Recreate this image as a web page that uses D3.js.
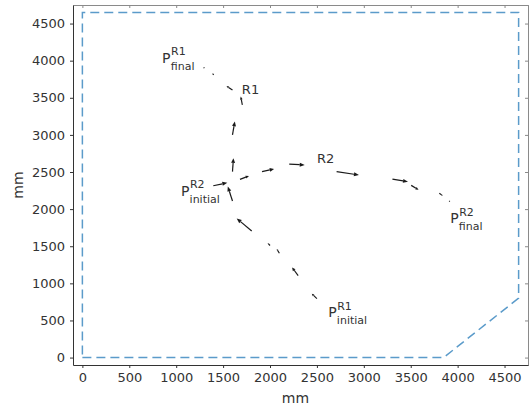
<!DOCTYPE html>
<html>
<head>
<meta charset="utf-8">
<script src="https://cdn.jsdelivr.net/npm/d3@7"></script>
<style>
  body { margin: 0; background: #fff; }
  svg text { font-family: "DejaVu Sans", sans-serif; fill: #333; }
</style>
</head>
<body>
<script>
// tick values (mm)
var xTicks = [0, 500, 1000, 1500, 2000, 2500, 3000, 3500, 4000, 4500];
var yTicks = [0, 500, 1000, 1500, 2000, 2500, 3000, 3500, 4000, 4500];

// workspace boundary (mm)
var boundX = [0, 3850, 4650, 4650, 0, 0];
var boundY = [0, 0, 800, 4650, 4650, 0];

// robot 1 path arrows: tail position and vector (mm)
var r1X = [2500, 2300, 2100, 2000, 1805, 1600, 1600, 1600, 1705, 1600, 1400, 1300];
var r1Y = [795, 1105, 1405, 1510, 1705, 2110, 2505, 3000, 3405, 3605, 3810, 3900];
var r1U = [-55, -65, -28, -25, -160, -50, 10, 25, -17, -64, -16, -10];
var r1V = [65, 110, 58, 32, 170, 195, 180, 180, 112, 54, 20, 12];

// robot 2 path arrows
var r2X = [1395, 1680, 1915, 2205, 2710, 3305, 3505, 3805, 3910];
var r2Y = [2315, 2400, 2505, 2605, 2505, 2405, 2320, 2215, 2110];
var r2U = [150, 96, 128, 165, 238, 166, 78, 36, 10];
var r2V = [40, 47, 36, -9, -45, -36, -60, -36, -12];

// point labels
var ptSup = ["R1", "R1", "R2", "R2"];
var ptSub = ["final", "initial", "initial", "final"];
var ptX = [850, 2620, 1050, 3920];
var ptY = [3970, 545, 2180, 1810];

// robot labels
var robName = ["R1", "R2"];
var robX = [1700, 2500];
var robY = [3550, 2620];

var width = 531, height = 412;
var plot = {left: 73, right: 528, top: 5, bottom: 365};

var svg = d3.select("body").append("svg")
    .attr("width", width)
    .attr("height", height);

var x = d3.scaleLinear().domain([-100, 4750]).range([plot.left, plot.right]);
var y = d3.scaleLinear().domain([-100, 4750]).range([plot.bottom, plot.top]);

// frame top/right
svg.append("g")
    .attr("transform", "translate(0," + plot.top + ")")
    .call(d3.axisBottom(x).tickValues(xTicks).tickSize(3).tickFormat(""))
    .call(function(g) { g.selectAll("line,path").attr("stroke", "#8a8a8a"); });
svg.append("g")
    .attr("transform", "translate(" + plot.right + ",0)")
    .call(d3.axisLeft(y).tickValues(yTicks).tickSize(3).tickFormat(""))
    .call(function(g) { g.selectAll("line,path").attr("stroke", "#8a8a8a"); });

// bottom and left axes
var xAxis = svg.append("g")
    .attr("transform", "translate(0," + plot.bottom + ")")
    .call(d3.axisBottom(x).tickValues(xTicks).tickFormat(d3.format("d"))
      .tickSize(3).tickSizeOuter(0).tickPadding(5));
var yAxis = svg.append("g")
    .attr("transform", "translate(" + plot.left + ",0)")
    .call(d3.axisLeft(y).tickValues(yTicks).tickFormat(d3.format("d"))
      .tickSize(3).tickSizeOuter(0).tickPadding(5));
[xAxis, yAxis].forEach(function(g) {
  g.selectAll("line,path").attr("stroke", "#333");
  g.selectAll("text").attr("font-size", 13).attr("font-family", "DejaVu Sans").style("fill", "#333");
});

// axis titles
svg.append("text")
    .attr("x", (plot.left + plot.right) / 2 - 5)
    .attr("y", 403)
    .attr("text-anchor", "middle")
    .attr("font-size", 14)
    .text("mm");
svg.append("text")
    .attr("transform", "translate(23," + ((plot.top + plot.bottom) / 2) + ") rotate(-90)")
    .attr("text-anchor", "middle")
    .attr("font-size", 14)
    .text("mm");

// boundary
var boundary = d3.range(boundX.length).map(function(i) { return [boundX[i], boundY[i]]; });
svg.append("path")
    .datum(boundary)
    .attr("fill", "none")
    .attr("stroke", "#5b9bca")
    .attr("stroke-width", 1.5)
    .attr("stroke-dasharray", "9,5")
    .attr("d", d3.line().x(function(d) { return x(d[0]); }).y(function(d) { return y(d[1]); }));

// quiver arrows
function drawArrows(xs, ys, us, vs) {
  var g = svg.append("g");
  for (var i = 0; i < xs.length; i++) {
    var x0 = x(xs[i]), y0 = y(ys[i]);
    var x1 = x(xs[i] + us[i]), y1 = y(ys[i] + vs[i]);
    var dx = x1 - x0, dy = y1 - y0;
    var len = Math.sqrt(dx * dx + dy * dy);
    var ux = dx / len, uy = dy / len;
    var hl = Math.min(len * 0.35, 5), hw = Math.min(hl * 0.45, 2);
    var bx = x1 - ux * hl, by = y1 - uy * hl;
    g.append("line")
        .attr("x1", x0).attr("y1", y0)
        .attr("x2", bx).attr("y2", by)
        .attr("stroke", "#1a1a1a")
        .attr("stroke-width", 1.2);
    g.append("path")
        .attr("d", "M" + x1 + "," + y1 +
          "L" + (bx - uy * hw) + "," + (by + ux * hw) +
          "L" + (bx + uy * hw) + "," + (by - ux * hw) + "Z")
        .attr("fill", "#1a1a1a");
  }
}
drawArrows(r1X, r1Y, r1U, r1V);
drawArrows(r2X, r2Y, r2U, r2V);

// robot labels
robName.forEach(function(n, i) {
  svg.append("text")
      .attr("x", x(robX[i]))
      .attr("y", y(robY[i]))
      .attr("font-size", 13)
      .text(n);
});

// point labels
ptSup.forEach(function(s, i) {
  var g = svg.append("g")
      .attr("transform", "translate(" + x(ptX[i]) + "," + y(ptY[i]) + ")");
  g.append("text").attr("font-size", 14).text("P");
  g.append("text").attr("x", 9).attr("y", -7.5).attr("font-size", 11).text(s);
  g.append("text").attr("x", 8.7).attr("y", 7).attr("font-size", 11).text(ptSub[i]);
});
</script>
</body>
</html>
